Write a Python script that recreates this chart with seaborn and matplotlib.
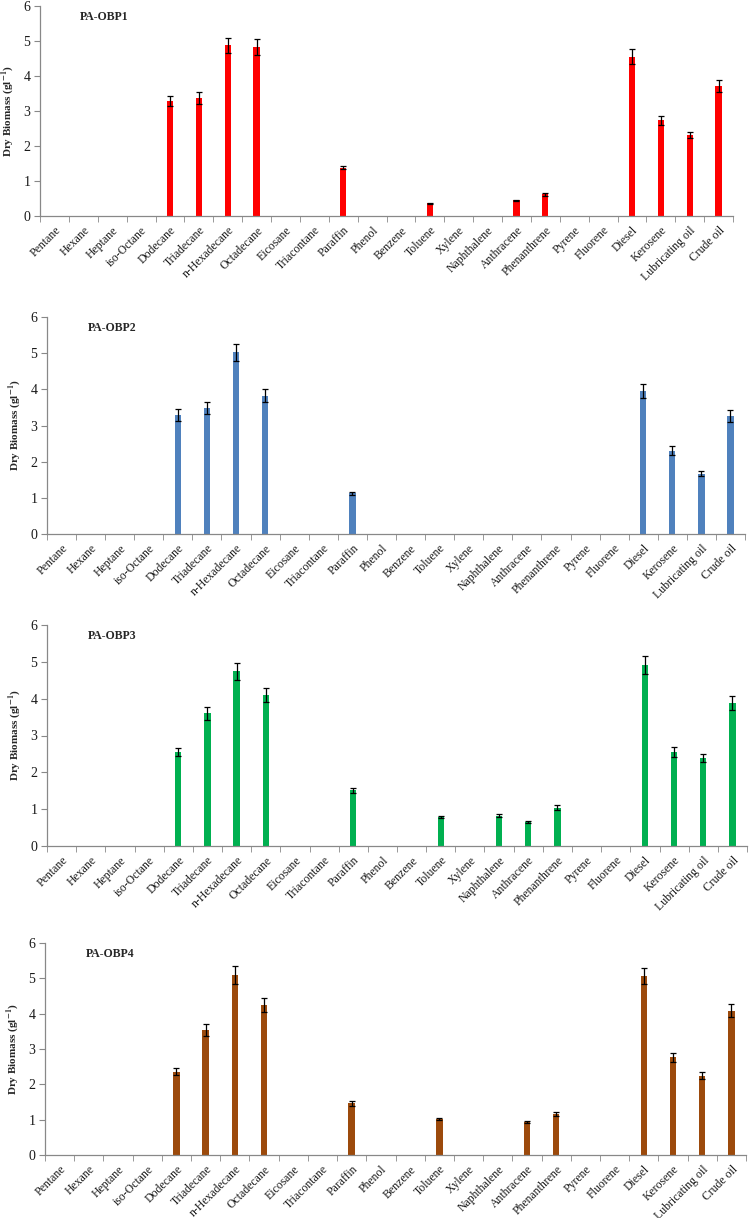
import numpy as np
import pandas as pd
import matplotlib
matplotlib.use("Agg")
import matplotlib.pyplot as plt
import seaborn as sns

substrates = ["Pentane", "Hexane", "Heptane", "iso-Octane", "Dodecane", "Triadecane",
              "n-Hexadecane", "Octadecane", "Eicosane", "Triacontane", "Paraffin", "Phenol",
              "Benzene", "Toluene", "Xylene", "Naphthalene", "Anthracene", "Phenanthrene",
              "Pyrene", "Fluorene", "Diesel", "Kerosene", "Lubricating oil", "Crude oil"]

# dry biomass (g/l) per strain, and error bar half-lengths
obp1 = [0, 0, 0, 0, 3.28, 3.37, 4.88, 4.83, 0, 0, 1.38, 0, 0, 0.36, 0, 0, 0.45, 0.62, 0, 0, 4.55, 2.74, 2.32, 3.71]
obp1_err = [0, 0, 0, 0, 0.15, 0.17, 0.22, 0.23, 0, 0, 0.05, 0, 0, 0.02, 0, 0, 0.02, 0.04, 0, 0, 0.21, 0.13, 0.09, 0.17]
obp2 = [0, 0, 0, 0, 3.30, 3.48, 5.02, 3.82, 0, 0, 1.12, 0, 0, 0, 0, 0, 0, 0, 0, 0, 3.96, 2.30, 1.66, 3.26]
obp2_err = [0, 0, 0, 0, 0.17, 0.17, 0.24, 0.18, 0, 0, 0.05, 0, 0, 0, 0, 0, 0, 0, 0, 0, 0.20, 0.12, 0.07, 0.16]
obp3 = [0, 0, 0, 0, 2.55, 3.60, 4.74, 4.10, 0, 0, 1.51, 0, 0, 0.78, 0, 0.82, 0.65, 1.04, 0, 0, 4.91, 2.55, 2.39, 3.87]
obp3_err = [0, 0, 0, 0, 0.12, 0.18, 0.22, 0.20, 0, 0, 0.07, 0, 0, 0.03, 0, 0.04, 0.02, 0.06, 0, 0, 0.24, 0.13, 0.11, 0.19]
obp4 = [0, 0, 0, 0, 2.36, 3.54, 5.10, 4.24, 0, 0, 1.46, 0, 0, 1.02, 0, 0, 0.93, 1.16, 0, 0, 5.06, 2.77, 2.24, 4.08]
obp4_err = [0, 0, 0, 0, 0.10, 0.17, 0.25, 0.20, 0, 0, 0.06, 0, 0, 0.04, 0, 0, 0.03, 0.05, 0, 0, 0.22, 0.13, 0.10, 0.18]

strains = ["PA-OBP1", "PA-OBP2", "PA-OBP3", "PA-OBP4"]
values = [obp1, obp2, obp3, obp4]
errors = [obp1_err, obp2_err, obp3_err, obp4_err]
colors = ["#FF0000", "#4F81BD", "#00B050", "#9C4A0C"]

sns.set_style("white")
plt.rcParams['font.family'] = ['Liberation Serif', 'DejaVu Serif']
plt.rcParams['mathtext.fontset'] = 'stix'

W, H = 749, 1218
fig = plt.figure(figsize=(W / 100, H / 100), dpi=100)

# axes boxes in pixels: (left, top, right, bottom)
boxes = [(40, 6, 733, 216), (47, 317, 745, 534), (47, 625, 747, 846), (45, 943, 746, 1155)]

for i, (name, vals, errs, col) in enumerate(zip(strains, values, errors, colors)):
    l, t, r, b = boxes[i]
    ax = fig.add_axes([l / W, 1 - b / H, (r - l) / W, (b - t) / H])
    df = pd.DataFrame({"substrate": substrates, "biomass": vals})
    sns.barplot(data=df, x="substrate", y="biomass", color=col, width=0.22,
                saturation=1, ax=ax, errorbar=None, linewidth=0)
    x = np.arange(len(substrates))
    v = np.array(vals)
    e = np.array(errs)
    m = v > 0
    ax.errorbar(x[m], v[m], yerr=e[m], fmt="none", ecolor="black", elinewidth=0.9,
                capsize=2.3, capthick=0.9)
    ax.set_xlim(-0.5, len(substrates) - 0.5)
    ax.set_ylim(0, 6)
    ax.set_yticks(range(0, 7))
    ax.set_xlabel("")
    ax.set_ylabel("Dry Biomass (gl$^{\\mathbf{-1}}$)", fontsize=8, fontweight="bold", labelpad=5)
    ax.set_xticks(x)
    ax.set_xticklabels(substrates, rotation=45, ha="right", rotation_mode="anchor", fontsize=8.5,
                       color="#1a1a1a")
    ax.set_xticks(np.arange(-0.5, len(substrates), 1), minor=True)
    ax.tick_params(axis="x", which="major", length=0, pad=6)
    ax.tick_params(axis="x", which="minor", length=4, color="#888888", direction="out")
    ax.tick_params(axis="y", length=4, color="#888888", direction="out", labelsize=10, pad=3,
                   labelcolor="#1a1a1a")
    ax.tick_params(bottom=True, left=True, which="both")
    for s in ["top", "right"]:
        ax.spines[s].set_visible(False)
    for s in ["left", "bottom"]:
        ax.spines[s].set_color("#888888")
        ax.spines[s].set_linewidth(0.9)
    ax.text(0.058, 0.95, name, transform=ax.transAxes, fontsize=8.5, fontweight="bold",
            va="center", ha="left")

fig.savefig("out.png", dpi=100)
